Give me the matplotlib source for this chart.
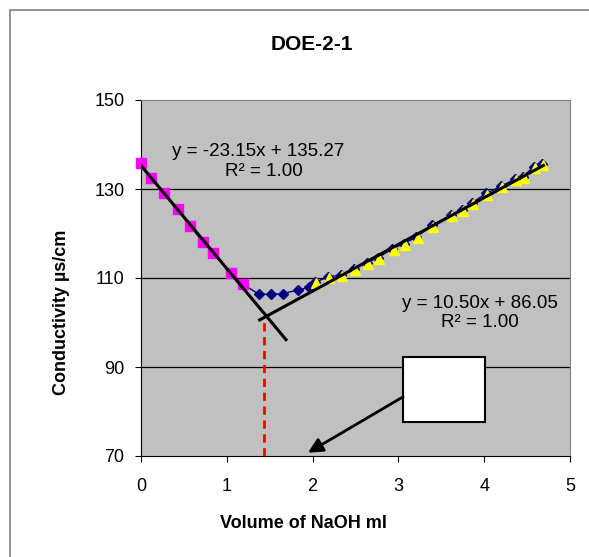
import matplotlib
matplotlib.use("Agg")
import matplotlib.pyplot as plt
from matplotlib.patches import Rectangle
from matplotlib.transforms import ScaledTranslation

plt.rcParams['font.family'] = ['Liberation Sans', 'DejaVu Sans']

# Titration readings: volume of NaOH (ml) vs conductivity (µs/cm)
volume = [0.00, 0.12, 0.27, 0.43, 0.57, 0.72, 0.84, 1.05, 1.19,
          1.37, 1.51, 1.65, 1.83, 1.96,
          2.03, 2.18, 2.33, 2.48, 2.63, 2.76, 2.93, 3.06, 3.21, 3.39,
          3.61, 3.74, 3.86, 4.02, 4.20, 4.36, 4.45, 4.58, 4.67]
conductivity = [135.8, 132.4, 129.2, 125.4, 121.7, 118.2, 115.6, 111.1, 108.6,
                106.4, 106.3, 106.5, 107.3, 107.9,
                109.1, 110.2, 110.7, 112.1, 113.4, 114.5, 116.6, 117.7, 119.2, 121.8,
                124.1, 125.2, 126.9, 129.0, 130.6, 132.3, 132.8, 135.0, 135.7]
n_acid = 9        # first points: falling branch
n_base_start = 14  # rising branch starts here

# linear fits for the two branches
slope1, icpt1 = -23.15, 135.27
slope2, icpt2 = 10.50, 86.05
fit1_x = [0.0, 1.69]
fit2_x = [1.383, 4.69]
eq1 = "y = -23.15x + 135.27"
eq2 = "y = 10.50x + 86.05"
r2_text = "R² = 1.00"

# end point marker
endpoint_x = 1.43
endpoint_y = 101.4

xticks = [0, 1, 2, 3, 4, 5]
yticks = [70, 90, 110, 130, 150]

fig = plt.figure(figsize=(5.89, 5.57), dpi=100)
ax = fig.add_axes([141 / 589, 101 / 557, 429 / 589, 356 / 557])
ax.set_facecolor('#C0C0C0')

# chart area outline
fig.patches.append(Rectangle((10 / 589, -0.1), 1.2, 1.1 - 10 / 557,
                             transform=fig.transFigure, fill=False,
                             edgecolor='#808080', linewidth=1.2))

ax.set_xlim(0, 5)
ax.set_ylim(70, 150)
ax.set_xticks(xticks)
ax.set_yticks(yticks)
for yv in [90, 110, 130]:
    ax.axhline(yv, color='black', linewidth=0.9, zorder=1)

# whole series in navy, branches highlighted on top
ax.plot(volume, conductivity, color='#000080', marker='D', markersize=4.8,
        linewidth=1, zorder=3, clip_on=False)
ax.plot(volume[:n_acid], conductivity[:n_acid], linestyle='none', marker='s',
        markersize=6.5, color='#FF00FF', zorder=4, clip_on=False)
shift = ScaledTranslation(0.8 / 72, -0.8 / 72, fig.dpi_scale_trans)
ax.plot(volume[n_base_start:], conductivity[n_base_start:], linestyle='none',
        marker='^', markersize=7.5, color='#FFFF00', zorder=4,
        transform=ax.transData + shift)

ax.plot(fit1_x, [slope1 * v + icpt1 for v in fit1_x], color='black',
        linewidth=2.2, zorder=5)
ax.plot(fit2_x, [slope2 * v + icpt2 for v in fit2_x], color='black',
        linewidth=2.2, zorder=5)

ax.plot([endpoint_x, endpoint_x], [70, endpoint_y], color='red',
        linestyle=(0, (3, 2)), linewidth=2, zorder=4)

ax.text(1.37, 138.4, eq1, ha='center', va='center', fontsize=13.5)
ax.text(1.43, 133.9, r2_text, ha='center', va='center', fontsize=13.5)
ax.text(3.956, 104.2, eq2, ha='center', va='center', fontsize=13.5)
ax.text(3.95, 99.9, r2_text, ha='center', va='center', fontsize=13.5)

# callout box with arrow
ax.add_patch(Rectangle((3.055, 77.57), 0.955, 14.61, facecolor='white',
                       edgecolor='black', linewidth=1.5, zorder=6))
ax.annotate('', xy=(1.946, 70.74), xytext=(3.055, 83.3),
            arrowprops=dict(arrowstyle='-|>', color='black', lw=2,
                            mutation_scale=22, shrinkA=0, shrinkB=0),
            zorder=6)

for side in ['top', 'right']:
    ax.spines[side].set_color('#808080')
for side in ['left', 'bottom']:
    ax.spines[side].set_color('black')
ax.tick_params(axis='y', direction='out', length=4, width=0.8, pad=8,
               labelsize=13)
ax.tick_params(axis='x', direction='out', length=4, width=0.8, pad=12,
               labelsize=13)

fig.text(312 / 589, 1 - 44 / 557, "DOE-2-1", ha='center', va='center',
         fontsize=15, fontweight='bold')
fig.text(303 / 589, 1 - 523 / 557, "Volume of NaOH ml", ha='center',
         va='center', fontsize=13, fontweight='bold')
fig.text(62 / 589, 1 - 312 / 557, "Conductivity µs/cm", ha='center',
         va='center', rotation=90, fontsize=13, fontweight='bold')

fig.savefig('out.png', dpi=100)
